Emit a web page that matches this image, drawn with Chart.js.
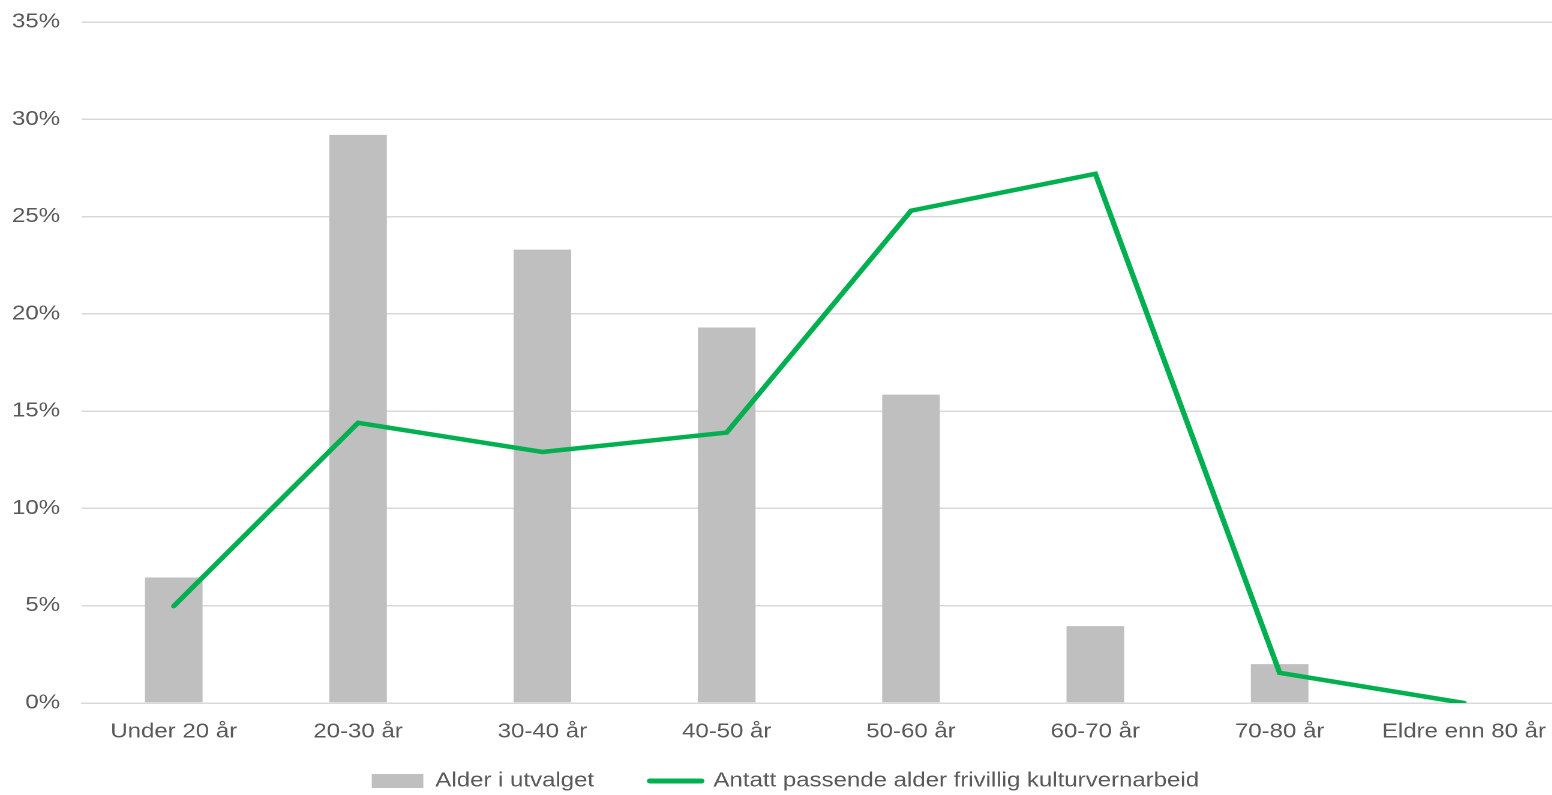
<!DOCTYPE html>
<html>
<head>
<meta charset="utf-8">
<script src="https://cdn.jsdelivr.net/npm/chart.js@4/dist/chart.umd.min.js"></script>
<style>
  html, body { margin: 0; padding: 0; background: #fff; overflow: hidden; }
  /* the reference is drawn slightly wide, so the whole chart is stretched a little */
  #wrap {
    position: absolute; left: 0; top: 0;
    width: 1299px; height: 795px;
    transform: scaleX(1.2); transform-origin: left top;
  }
</style>
</head>
<body>
<div id="wrap"><canvas id="chart"></canvas></div>
<script>
const categories = ["Under 20 år", "20-30 år", "30-40 år", "40-50 år", "50-60 år", "60-70 år", "70-80 år", "Eldre enn 80 år"];
const utvalget = [6.45, 29.2, 23.3, 19.3, 15.85, 3.95, 2.0, 0];
const passende = [4.98, 14.4, 12.9, 13.9, 25.3, 27.2, 1.55, 0];

const textColor = "#595959";
const font = { family: "'Liberation Sans', Arial, sans-serif", size: 20 };

new Chart(document.getElementById("chart").getContext("2d"), {
  data: {
    labels: categories,
    datasets: [
      {
        type: "bar",
        label: "Alder i utvalget",
        data: utvalget,
        backgroundColor: "#bfbfbf",
        barPercentage: 0.3125,
        categoryPercentage: 1,
        order: 1,
      },
      {
        type: "line",
        label: "Antatt passende alder frivillig kulturvernarbeid",
        data: passende,
        borderColor: "#00b050",
        backgroundColor: "#00b050",
        borderWidth: 4.5,
        pointRadius: 0,
        tension: 0,
        borderCapStyle: "round",
        borderJoinStyle: "miter",
        order: 0,
      },
    ],
  },
  options: {
    responsive: true,
    maintainAspectRatio: false,
    animation: false,
    devicePixelRatio: 2,
    layout: { padding: { left: 10, right: 0, top: 22, bottom: -6 } },
    plugins: {
      tooltip: { enabled: false },
      legend: {
        position: "bottom",
        labels: {
          color: textColor,
          font: font,
          usePointStyle: true,
          pointStyleWidth: 43,
          boxHeight: 14,
          padding: 2,
          generateLabels(chart) {
            return chart.data.datasets.map((ds, i) => ({
              // trailing spaces widen the gap between the two legend items
              text: ds.type === "bar" ? ds.label + "        " : ds.label,
              fillStyle: ds.backgroundColor,
              strokeStyle: ds.type === "line" ? ds.borderColor : ds.backgroundColor,
              lineWidth: ds.type === "line" ? 5 : 0,
              lineCap: "round",
              pointStyle: ds.type === "line" ? "line" : "rect",
              fontColor: textColor,
              datasetIndex: i,
              hidden: false,
            }));
          },
        },
      },
    },
    scales: {
      x: {
        grid: { display: false },
        border: { color: "#d9d9d9", width: 1.5 },
        ticks: { color: textColor, font: font, padding: 9, maxRotation: 0, autoSkip: false },
        afterFit(scale) {
          scale.height = 66;
        },
      },
      y: {
        min: 0,
        max: 35,
        grid: { color: "#d9d9d9", lineWidth: 1.5, drawTicks: false },
        border: { display: false },
        ticks: {
          stepSize: 5,
          color: textColor,
          font: font,
          padding: 18,
          callback: (v) => v + "%",
        },
        afterFit(scale) {
          scale.width = 58;
          scale.paddingTop = 0;
        },
      },
    },
  },
});
</script>
</body>
</html>
